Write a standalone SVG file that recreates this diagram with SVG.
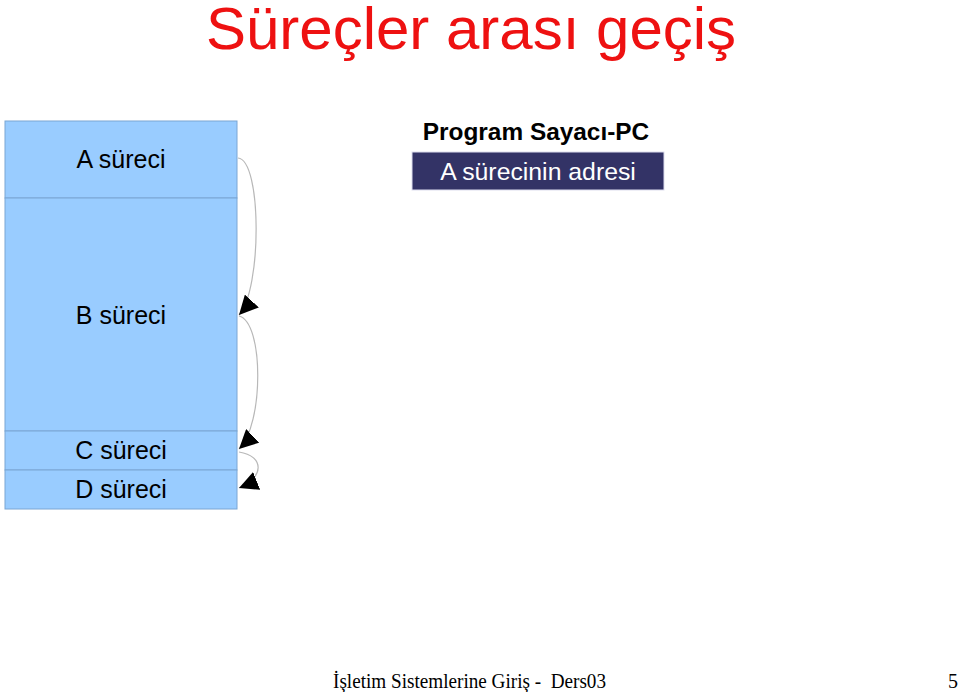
<svg xmlns="http://www.w3.org/2000/svg" width="960" height="692" viewBox="0 0 960 692">
<style>
.proc{fill:#99ccff;stroke:#7aa6d4;stroke-width:1}
.lbl{font-family:"Liberation Sans",Arial,sans-serif;font-size:25px;fill:#000;text-anchor:middle}
.conn{fill:none;stroke:#b8b8b8;stroke-width:1.2}
.foot{font-family:"Liberation Serif","Times New Roman",serif;font-size:20px;fill:#000;white-space:pre}
</style>
<defs>
<marker id="ah" viewBox="0 0 10 10" refX="10" refY="5" markerWidth="19" markerHeight="19" markerUnits="userSpaceOnUse" orient="auto">
<path d="M0,0 L10,5 L0,10 z" fill="#000"/>
</marker>
</defs>
<rect width="960" height="692" fill="#fff"/>
<text x="471" y="49" font-family="Liberation Sans,Arial,sans-serif" font-size="60" fill="#ee1111" text-anchor="middle">Süreçler arası geçiş</text>
<g id="procA"><rect class="proc" x="5" y="121" width="232" height="77"/><text class="lbl" x="121" y="168">A süreci</text></g>
<g id="procB"><rect class="proc" x="5" y="198" width="232" height="233"/><text class="lbl" x="121" y="324">B süreci</text></g>
<g id="procC"><rect class="proc" x="5" y="431" width="232" height="39"/><text class="lbl" x="121" y="459">C süreci</text></g>
<g id="procD"><rect class="proc" x="5" y="470" width="232" height="39"/><text class="lbl" x="121" y="498">D süreci</text></g>
<g id="connectors">
<path class="conn" d="M238,158 C262,160 262,290 239,315" marker-end="url(#ah)"/>
<path class="conn" d="M239,316 C264,322 264,425 239,449" marker-end="url(#ah)"/>
<path class="conn" d="M239,452 C265,456 264,478 239,488" marker-end="url(#ah)"/>
</g>
<g id="pc">
<text x="536" y="140" font-family="Liberation Sans,Arial,sans-serif" font-size="24.4" font-weight="bold" text-anchor="middle">Program Sayacı-PC</text>
<rect x="412" y="152" width="252" height="38" fill="#333366" stroke="#dde" stroke-width="1"/>
<text x="538" y="180" font-family="Liberation Sans,Arial,sans-serif" font-size="24.8" fill="#fff" text-anchor="middle">A sürecinin adresi</text>
</g>
<text class="foot" x="333" y="688" xml:space="preserve" textLength="273" lengthAdjust="spacingAndGlyphs">İşletim Sistemlerine Giriş -  Ders03</text>
<text class="foot" x="958" y="688" text-anchor="end">5</text>
</svg>
